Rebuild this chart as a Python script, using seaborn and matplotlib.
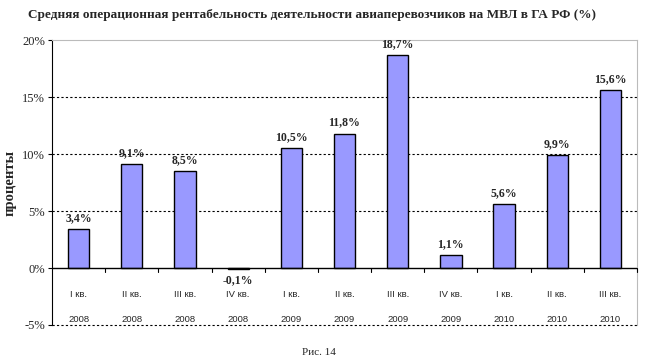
import pandas as pd
import seaborn as sns
import matplotlib.pyplot as plt

# Quarterly data
quarters = ['I кв.', 'II кв.', 'III кв.', 'IV кв.', 'I кв.', 'II кв.', 'III кв.', 'IV кв.', 'I кв.', 'II кв.', 'III кв.']
years = ['2008', '2008', '2008', '2008', '2009', '2009', '2009', '2009', '2010', '2010', '2010']
values = [3.4, 9.1, 8.5, -0.1, 10.5, 11.8, 18.7, 1.1, 5.6, 9.9, 15.6]
yticks = [-5, 0, 5, 10, 15, 20]

data = pd.DataFrame({'idx': range(len(values)), 'value': values})

sns.set_style('white')
serif = ['Liberation Serif', 'DejaVu Serif']
sans = ['Liberation Sans', 'DejaVu Sans']

fig = plt.figure(figsize=(6.5, 3.63), dpi=100)
ax = fig.add_axes([0.08, 0.1047, 0.9, 0.785])

# dashed grid behind the bars
for g in [15, 10, 5, -5]:
    ax.axhline(g, color='black', linestyle=(0, (2, 2)), linewidth=0.8, zorder=0, clip_on=False)

sns.barplot(data=data, x='idx', y='value', color='#9999FF', saturation=1,
            width=0.4, edgecolor='black', linewidth=1, ax=ax, zorder=2)

ax.set_ylim(-5, 20)
ax.set_xlim(-0.5, len(values) - 0.5)

# x axis line at zero with ticks between categories
ax.axhline(0, color='black', linewidth=1, zorder=3)
for i in range(len(values)):
    ax.plot([i + 0.5, i + 0.5], [0, -0.35], color='black', linewidth=0.8, zorder=3, clip_on=False)

# data labels
for i, v in enumerate(values):
    txt = f'{v:.1f}%'.replace('.', ',')
    if v >= 0:
        ax.text(i, v + 0.45, txt, ha='center', va='bottom', fontsize=8.5, fontweight='bold', family=serif)
    else:
        ax.text(i, v - 0.4, txt, ha='center', va='top', fontsize=8.5, fontweight='bold', family=serif)

# category labels (quarter and year)
for i, (q, y) in enumerate(zip(quarters, years)):
    ax.text(i, -2.3, q, ha='center', va='center', fontsize=6.8, family=sans)
    ax.text(i, -4.5, y, ha='center', va='center', fontsize=6.8, family=sans)

ax.set_xticks([])
ax.set_xlabel('')
ax.set_yticks(yticks)
ax.set_yticklabels([f'{t}%' for t in yticks], family=serif, fontsize=9)
ax.tick_params(axis='y', length=3, width=0.8, color='black', pad=2, left=True)
ax.set_ylabel('проценты', family=serif, fontsize=10.5, fontweight='bold', labelpad=4)

for s in ['top', 'right']:
    ax.spines[s].set_color('#BBBBBB')
    ax.spines[s].set_linewidth(0.8)
ax.spines['bottom'].set_visible(False)
ax.spines['left'].set_color('black')
ax.spines['left'].set_linewidth(0.8)

fig.text(0.48, 0.96, 'Средняя операционная рентабельность деятельности авиаперевозчиков на МВЛ в ГА РФ (%)',
         ha='center', va='center', fontsize=9.5, fontweight='bold', family=serif)
fig.text(0.49, 0.03, 'Рис. 14', ha='center', va='center', fontsize=8, family=serif)

fig.savefig('out.png', dpi=100)
